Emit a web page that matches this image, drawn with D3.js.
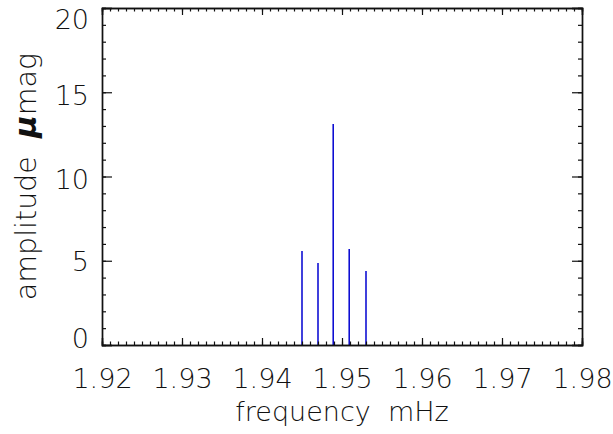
<!DOCTYPE html>
<html>
<head>
<meta charset="utf-8">
<script src="https://cdn.jsdelivr.net/npm/d3@7"></script>
<style>
html,body{margin:0;padding:0;background:#fff;}
svg{display:block;}
text{font-family:"DejaVu Sans",sans-serif;fill:#111;}
</style>
</head>
<body>
<svg id="chart" width="613" height="434"></svg>
<script>
const frequencies = [1.9450, 1.9470, 1.9489, 1.9509, 1.9530];
const amplitudes  = [5.58, 4.87, 13.12, 5.70, 4.39];
const xTicks = [1.92, 1.93, 1.94, 1.95, 1.96, 1.97, 1.98];
const yTicks = [0, 5, 10, 15, 20];
const xLabel = "frequency\u00a0\u00a0mHz";
const yLabelText = "amplitude\u00a0\u00a0";
const yLabelUnit = "mag";

(function(){
const W = 613, H = 434;
const m = {left:102, right:31, top:8, bottom:89};
const svg = d3.select("#chart");
const x = d3.scaleLinear().domain([1.92, 1.98]).range([m.left, W - m.right]);
const y = d3.scaleLinear().domain([0, 20]).range([H - m.bottom, m.top]);

const xMinor = d3.range(0, 61).map(i => 1.92 + i * 0.001);
const yMinor = d3.range(0, 21).map(i => i);

const axisColor = "#111";
const majorX = 7, minorX = 3.5, majorY = 10, minorY = 4;

svg.append("g").selectAll("line").data(frequencies).join("line")
  .attr("x1", d => x(d)).attr("x2", d => x(d))
  .attr("y1", y(0)).attr("y2", (d, i) => y(amplitudes[i]))
  .attr("stroke", "#0000d0").attr("stroke-width", 1.5);

svg.append("g").attr("transform", `translate(0,${y(0)})`)
  .call(d3.axisBottom(x).tickValues(xMinor).tickSize(-minorX).tickFormat(""));
svg.append("g").attr("transform", `translate(0,${y(0)})`)
  .call(d3.axisBottom(x).tickValues(xTicks).tickSize(-majorX).tickPadding(24).tickFormat(d3.format(".2f")));
svg.append("g").attr("transform", `translate(0,${y(20)})`)
  .call(d3.axisTop(x).tickValues(xMinor).tickSize(-minorX).tickFormat(""));
svg.append("g").attr("transform", `translate(0,${y(20)})`)
  .call(d3.axisTop(x).tickValues(xTicks).tickSize(-majorX).tickFormat(""));
svg.append("g").attr("transform", `translate(${x(1.92)},0)`)
  .call(d3.axisLeft(y).tickValues(yMinor).tickSize(-minorY).tickFormat(""));
const leftMaj = svg.append("g").attr("transform", `translate(${x(1.92)},0)`)
  .call(d3.axisLeft(y).tickValues(yTicks).tickSize(-majorY).tickPadding(13).tickFormat(d3.format("d")));
svg.append("g").attr("transform", `translate(${x(1.98)},0)`)
  .call(d3.axisRight(y).tickValues(yMinor).tickSize(-minorY).tickFormat(""));
svg.append("g").attr("transform", `translate(${x(1.98)},0)`)
  .call(d3.axisRight(y).tickValues(yTicks).tickSize(-majorY).tickFormat(""));

svg.selectAll(".domain").attr("stroke", axisColor).attr("stroke-width", 1.4);
svg.selectAll(".tick line").attr("stroke", axisColor).attr("stroke-width", 1.2);
svg.selectAll(".tick text").attr("font-size", 27).attr("font-family", "DejaVu Sans").attr("font-weight", 200).attr("fill", "#111");
const yShift = {0: -6, 5: 1, 10: 3, 15: 4, 20: 12};
leftMaj.selectAll(".tick text").attr("y", d => yShift[d]);

svg.append("text")
  .attr("x", (x(1.92) + x(1.98)) / 2).attr("y", 421)
  .attr("text-anchor", "middle").attr("font-size", 27).attr("font-weight", 200)
  .text(xLabel);

const yt = svg.append("text")
  .attr("transform", `translate(36,${(y(0) + y(20)) / 2}) rotate(-90)`)
  .attr("text-anchor", "middle").attr("font-size", 28.5).attr("font-weight", 200);
yt.append("tspan").text(yLabelText);
yt.append("tspan").attr("font-style", "italic").attr("font-weight", "bold").attr("font-size", 31).text("\u03bc");
yt.append("tspan").text(yLabelUnit);
})();
</script>
</body>
</html>
